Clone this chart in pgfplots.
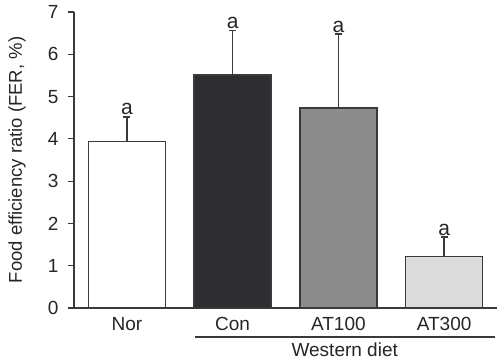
\documentclass[border=0pt]{standalone}
\usepackage{pgfplots}
\pgfplotsset{compat=1.18}
\usepackage{fontspec}
\setmainfont{Liberation Sans}
\definecolor{dline}{HTML}{3A3A3A}
\definecolor{cdark}{HTML}{2D2D32}
\definecolor{cmid}{HTML}{8C8C8C}
\definecolor{clight}{HTML}{DCDCDC}
\begin{document}
\fontsize{19}{22}\selectfont
\begin{tikzpicture}
\begin{axis}[
  scale only axis, width=423pt, height=296pt,
  xmin=-0.5, xmax=3.5, ymin=0, ymax=7,
  axis x line*=bottom, axis y line*=left,
  axis line style={dline, line width=1.2pt},
  ytick={0,1,...,7},
  xtick={0,1,2,3}, xticklabels={Nor,Con,AT100,AT300},
  x tick style={draw=none},
  minor xtick={0.5,1.5,2.5,3.5},
  minor x tick style={dline, line width=1.2pt},
  minor tick length=5pt,
  y tick style={dline, line width=1.2pt},
  major tick length=6pt,
  tick align=outside,
  /pgf/number format/assume math mode=true,
  tick label style={font=\fontsize{19}{22}\selectfont, text=black!85},
  yticklabel style={xshift=-3pt},
  xticklabel style={yshift=3pt},
  ylabel={Food efficiency ratio (FER, \%)},
  ylabel style={font=\fontsize{18.5}{22}\selectfont, text=black!85,
    at={([xshift=-57pt]axis description cs:0,0.5)}, anchor=center},
  ybar, bar width=77pt,
  clip=false,
]
\addplot[bar shift=0pt, fill=white, draw=dline, line width=1.3pt,
  error bars/.cd, y dir=plus, y explicit,
  error bar style={line width=1.3pt, dline},
  error mark options={rotate=90, mark size=3.5pt, line width=1.3pt, dline}]
  coordinates {(0,3.94) +- (0,0.58)};
\addplot[bar shift=0pt, fill=cdark, draw=dline, line width=1.3pt,
  error bars/.cd, y dir=plus, y explicit,
  error bar style={line width=1.3pt, dline},
  error mark options={rotate=90, mark size=3.5pt, line width=1.3pt, dline}]
  coordinates {(1,5.51) +- (0,1.06)};
\addplot[bar shift=0pt, fill=cmid, draw=dline, line width=1.3pt,
  error bars/.cd, y dir=plus, y explicit,
  error bar style={line width=1.3pt, dline},
  error mark options={rotate=90, mark size=3.5pt, line width=1.3pt, dline}]
  coordinates {(2,4.73) +- (0,1.75)};
\addplot[bar shift=0pt, fill=clight, draw=dline, line width=1.3pt,
  error bars/.cd, y dir=plus, y explicit,
  error bar style={line width=1.3pt, dline},
  error mark options={rotate=90, mark size=3.5pt, line width=1.3pt, dline}]
  coordinates {(3,1.21) +- (0,0.47)};
\tikzset{alab/.style={above, inner sep=1.5pt, text=black!85, font=\fontsize{21}{24}\selectfont}}
\node[alab] at (axis cs:0,4.52) {a};
\node[alab] at (axis cs:1,6.57) {a};
\node[alab] at (axis cs:2,6.48) {a};
\node[alab] at (axis cs:3,1.68) {a};
\draw[dline, line width=1.3pt] ([yshift=-29pt]axis cs:0.644,0) -- ([yshift=-29pt]axis cs:3.48,0);
\node[text=black!85] at ([yshift=-42pt]axis cs:2.06,0) {Western diet};
\end{axis}
\pgfresetboundingbox
\path[use as bounding box] ([xshift=-74pt,yshift=-52pt]current axis.south west) rectangle ([xshift=2pt,yshift=12pt]current axis.north east);
\end{tikzpicture}
\end{document}
